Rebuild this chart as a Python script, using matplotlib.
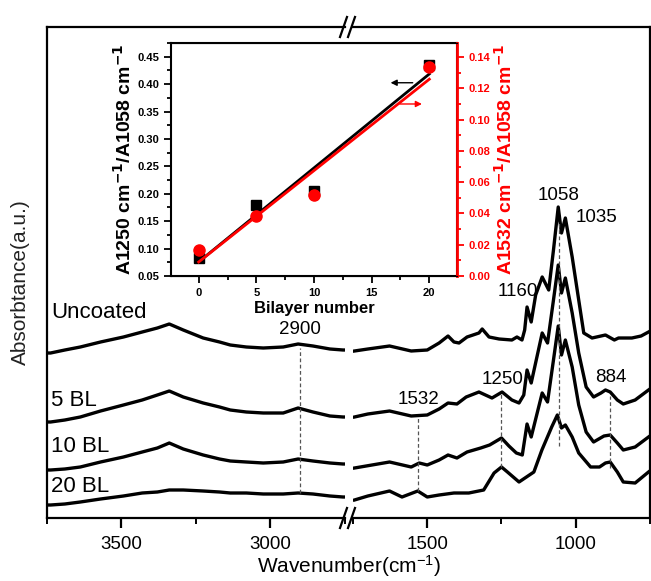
import numpy as np
import matplotlib.pyplot as plt
from matplotlib.ticker import MultipleLocator, FormatStrFormatter

plt.rcParams['font.family'] = ['Liberation Sans', 'DejaVu Sans']
plt.rcParams['mathtext.default'] = 'regular'

# high wavenumber window, shared x for all four spectra
wn_hi = [3750, 3738, 3690, 3638, 3570, 3493, 3430, 3379, 3339, 3292, 3225, 3170, 3134, 3080,
         3023, 2956, 2906, 2856, 2799, 2755, 2750]
unc_hi = [1.65, 1.65, 1.68, 1.71, 1.76, 1.81, 1.86, 1.90, 1.94, 1.88, 1.80, 1.76, 1.73, 1.71,
          1.70, 1.71, 1.74, 1.72, 1.69, 1.68, 1.68]
bl5_hi = [0.96, 0.96, 0.98, 1.01, 1.07, 1.13, 1.18, 1.23, 1.27, 1.21, 1.15, 1.11, 1.08, 1.06,
          1.05, 1.05, 1.10, 1.06, 1.02, 1.01, 1.01]
bl10_hi = [0.48, 0.48, 0.49, 0.51, 0.56, 0.61, 0.66, 0.70, 0.75, 0.69, 0.63, 0.59, 0.57, 0.56,
           0.55, 0.56, 0.59, 0.57, 0.55, 0.54, 0.54]
bl20_hi = [0.13, 0.13, 0.14, 0.16, 0.19, 0.22, 0.25, 0.26, 0.28, 0.28, 0.27, 0.26, 0.25, 0.25,
           0.24, 0.24, 0.25, 0.24, 0.22, 0.21, 0.21]

# fingerprint window (1750-750 cm-1)
unc_wn = [1745, 1700, 1627, 1554, 1500, 1460, 1430, 1410, 1393, 1366, 1326, 1315, 1292, 1258, 1215,
          1198, 1181, 1172, 1164, 1150, 1135, 1113, 1091, 1075, 1059, 1048, 1035, 1012, 990, 973,
          945, 900, 870, 856, 811, 780, 755]
unc_a = [1.67, 1.69, 1.72, 1.67, 1.68, 1.75, 1.82, 1.76, 1.75, 1.81, 1.85, 1.89, 1.81, 1.79, 1.78,
         1.81, 1.78, 1.88, 2.11, 1.96, 2.23, 2.41, 2.28, 2.68, 3.11, 2.85, 3.00, 2.61, 2.18, 1.85,
         1.80, 1.83, 1.78, 1.80, 1.80, 1.82, 1.86]
bl5_wn = [1745, 1700, 1627, 1554, 1500, 1460, 1430, 1400, 1369, 1326, 1282, 1248, 1215, 1191, 1175,
          1164, 1150, 1113, 1095, 1075, 1059, 1048, 1035, 1012, 990, 965, 940, 915, 900, 884,
          860, 840, 800, 755]
bl5_a = [1.01, 1.04, 1.07, 1.02, 1.03, 1.09, 1.15, 1.14, 1.21, 1.26, 1.20, 1.26, 1.18, 1.15, 1.23,
         1.48, 1.35, 1.85, 1.75, 2.18, 2.53, 2.25, 2.40, 2.05, 1.65, 1.31, 1.21, 1.25, 1.28, 1.26,
         1.18, 1.14, 1.18, 1.28]
bl10_wn = [1745, 1627, 1554, 1527, 1500, 1460, 1430, 1400, 1366, 1320, 1290, 1250, 1225, 1200, 1180,
           1164, 1150, 1113, 1095, 1075, 1059, 1048, 1035, 1012, 990, 965, 940, 905, 884, 860,
           840, 800, 755]
bl10_a = [0.50, 0.56, 0.51, 0.55, 0.53, 0.58, 0.63, 0.60, 0.66, 0.70, 0.73, 0.80, 0.72, 0.65, 0.63,
          0.94, 0.81, 1.25, 1.16, 1.58, 1.92, 1.63, 1.78, 1.51, 1.13, 0.86, 0.76, 0.82, 0.83, 0.75,
          0.68, 0.71, 0.81]
bl20_wn = [1745, 1700, 1627, 1585, 1532, 1500, 1460, 1410, 1360, 1310, 1275, 1250, 1230, 1191, 1141,
           1114, 1081, 1062, 1048, 1035, 1012, 990, 950, 920, 900, 884, 860, 840, 800, 755]
bl20_a = [0.18, 0.22, 0.27, 0.21, 0.27, 0.21, 0.23, 0.25, 0.25, 0.28, 0.45, 0.51, 0.46, 0.36, 0.46,
          0.68, 0.91, 1.03, 0.90, 0.93, 0.81, 0.65, 0.51, 0.51, 0.55, 0.56, 0.46, 0.36, 0.35, 0.46]

names = ['Uncoated', '5 BL', '10 BL', '20 BL']
name_y = [2.05, 1.18, 0.71, 0.31]

# marked peaks: wavenumber, dashed line from/to, label height
peak_wn = [2900, 1532, 1250, 1058, 884]
peak_top = [1.70, 1.02, 1.26, 2.95, 1.22]
peak_bot = [0.25, 0.27, 0.51, 0.72, 0.50]
label_txt = ['2900', '1532', '1250', '1160', '1058', '1035', '884']
label_wn = [2900, 1528, 1248, 1195, 1057, 930, 883]
label_y = [1.88, 1.18, 1.38, 2.26, 3.23, 3.01, 1.40]

# inset data
bilayer = np.array([0, 5, 10, 20])
r1250 = np.array([0.083, 0.180, 0.205, 0.435])
r1532 = np.array([0.0166, 0.0384, 0.0518, 0.1336])

W, H = 651, 581
fig = plt.figure(figsize=(W / 100, H / 100), dpi=100)

def fx(px):
    return px / W

def fy(py):
    return 1 - py / H

ax1 = fig.add_axes([fx(47), fy(518), fx(297.5), (518 - 27) / H])
ax2 = fig.add_axes([fx(353), fy(518), fx(297), (518 - 27) / H])

for ax, xl in [(ax1, (3750, 2750)), (ax2, (1750, 750))]:
    ax.set_xlim(*xl)
    ax.set_ylim(0, 4.91)
    ax.set_yticks([])
    for s in ax.spines.values():
        s.set_linewidth(1.6)
    ax.xaxis.set_major_locator(MultipleLocator(500))
    ax.xaxis.set_minor_locator(MultipleLocator(250))
    ax.tick_params(axis='x', which='major', direction='out', length=7, width=1.6, labelsize=13.5, pad=6)
    ax.tick_params(axis='x', which='minor', direction='out', length=4, width=1.4)

ax1.spines['right'].set_visible(False)
ax2.spines['left'].set_visible(False)
ax1.set_xticks([3500, 3000])
ax2.set_xticks([1500, 1000])

for ya in [unc_hi, bl5_hi, bl10_hi, bl20_hi]:
    ax1.plot(wn_hi, ya, color='black', lw=2.4, solid_joinstyle='round')
for xa, ya in [(unc_wn, unc_a), (bl5_wn, bl5_a), (bl10_wn, bl10_a), (bl20_wn, bl20_a)]:
    ax2.plot(xa, ya, color='black', lw=2.4, solid_joinstyle='round')

for w, t, b in zip(peak_wn, peak_top, peak_bot):
    ax = ax1 if w > 2000 else ax2
    ax.plot([w, w], [b, t], color='#555555', lw=0.9, ls=(0, (3, 2)))

for t, w, y in zip(label_txt, label_wn, label_y):
    ax = ax1 if w > 2000 else ax2
    ax.text(w, y, t, ha='center', va='center', fontsize=13.5)

for n, y in zip(names, name_y):
    ax1.text(3737, y, n, ha='left', va='center', fontsize=16)

# break marks
for yb in [27, 518]:
    for xb in [340, 348]:
        fig.add_artist(plt.Line2D([fx(xb), fx(xb + 7)], [fy(yb + 10), fy(yb - 10)],
                                  color='black', lw=1.6))

fig.text(fx(20), fy(282), 'Absorbtance(a.u.)', rotation=90, ha='center', va='center',
         fontsize=15, color='#222222')
fig.text(fx(349), fy(566), 'Wavenumber(cm$^{-1}$)', ha='center', va='center', fontsize=15)

# inset
ins = fig.add_axes([fx(171), fy(276), fx(286), (276 - 43) / H])
ins2 = ins.twinx()
ins.set_xlim(-2.4, 22.4)
ins.set_ylim(0.05, 0.475)
ins2.set_ylim(0, 0.149)

k1 = np.polyfit(bilayer, r1250, 1)
k2 = np.polyfit(bilayer, r1532, 1)
xf = np.array([bilayer.min(), bilayer.max()])
ins.plot(xf, np.polyval(k1, xf), color='black', lw=2)
ins2.plot(xf, np.polyval(k2, xf), color='red', lw=2)
ins.plot(bilayer, r1250, 's', color='black', ms=7)
ins2.plot(bilayer, r1532, 'o', color='red', ms=8)

ins.annotate('', xy=(16.4, 0.4025), xytext=(18.8, 0.4025),
             arrowprops=dict(arrowstyle='-|>', color='black', lw=1, mutation_scale=9))
ins2.annotate('', xy=(19.6, 0.110), xytext=(17.2, 0.110),
              arrowprops=dict(arrowstyle='-|>', color='red', lw=1, mutation_scale=9))

ins.xaxis.set_major_locator(MultipleLocator(5))
ins.xaxis.set_minor_locator(MultipleLocator(2.5))
ins.yaxis.set_major_locator(MultipleLocator(0.05))
ins.yaxis.set_minor_locator(MultipleLocator(0.025))
ins.yaxis.set_major_formatter(FormatStrFormatter('%.2f'))
ins2.yaxis.set_major_locator(MultipleLocator(0.02))
ins2.yaxis.set_minor_locator(MultipleLocator(0.01))
ins2.yaxis.set_major_formatter(FormatStrFormatter('%.2f'))

ins.tick_params(which='both', direction='out', width=1.3, labelsize=8)
ins.tick_params(which='major', length=5)
ins.tick_params(which='minor', length=3)
ins2.tick_params(which='both', direction='out', width=1.3, labelsize=8, colors='red')
ins2.tick_params(which='major', length=5)
ins2.tick_params(which='minor', length=3)
for lab in ins.get_xticklabels() + ins.get_yticklabels() + ins2.get_yticklabels():
    lab.set_fontweight('bold')
for s in ins.spines.values():
    s.set_linewidth(1.5)
ins2.spines['right'].set_color('red')
ins2.spines['right'].set_linewidth(2)
ins2.spines['left'].set_visible(False)

ins.set_xlabel('Bilayer number', fontsize=12, fontweight='bold', labelpad=2)
ins.set_ylabel(r'A1250 cm$^{\mathbf{-1}}$/A1058 cm$^{\mathbf{-1}}$', fontsize=14,
               fontweight='bold', labelpad=2)
ins2.set_ylabel(r'A1532 cm$^{\mathbf{-1}}$/A1058 cm$^{\mathbf{-1}}$', fontsize=14,
                fontweight='bold', color='red', labelpad=3)

fig.savefig('out.png', dpi=100)
